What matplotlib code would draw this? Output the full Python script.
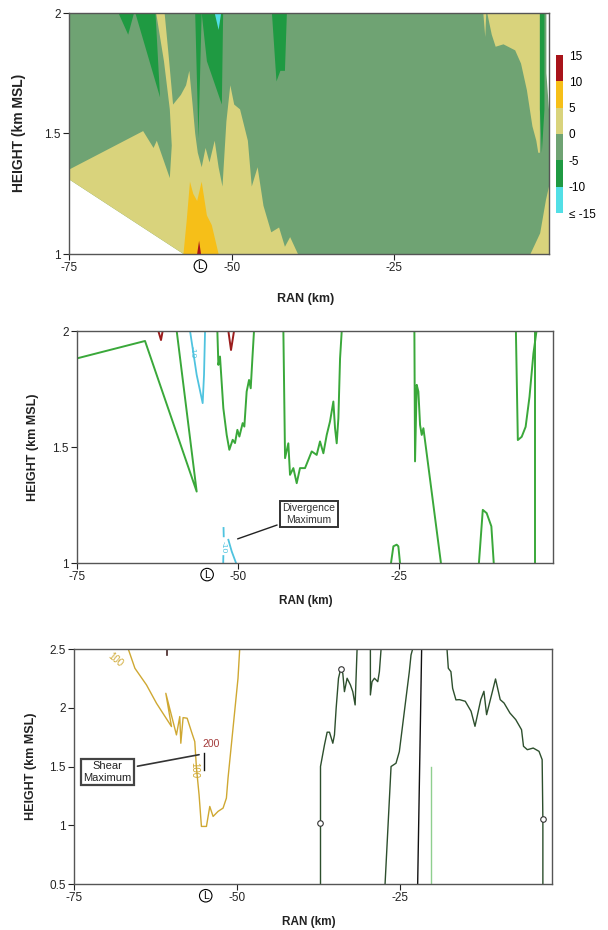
import numpy as np
import matplotlib.pyplot as plt
from matplotlib.colors import ListedColormap, BoundaryNorm
import matplotlib.cm as cm

plt.rcParams['font.family'] = ['Liberation Sans', 'DejaVu Sans']

# ---------------- panel 1: filled regions (RAN km, HEIGHT km) ----------------
dom_x = [-75.0, -75.0, -1.6, -1.6, -1.2, -1.2, -57.4]
dom_y = [1.31, 2.0, 2.0, 1.75, 1.6, 1.0, 1.0]

pale_x = [-75.0, -75.0, -63.6, -62.0, -61.5, -59.5, -59.2, -59.5, -60.4, -61.6, -60.3, -59.6,
          -59.0, -57.8, -57.0, -56.5, -56.0, -55.6, -55.2, -54.6, -54.0, -53.4, -52.6, -52.0,
          -51.4, -50.8, -50.2, -49.6, -48.7, -47.5, -46.9, -46.0, -45.1, -43.9, -42.7, -41.8,
          -41.0, -39.8, -57.4]
pale_y = [1.31, 1.35, 1.51, 1.44, 1.47, 1.315, 1.45, 1.60, 1.80, 2.0, 2.0, 1.80,
          1.62, 1.66, 1.70, 1.76, 1.62, 1.50, 1.42, 1.36, 1.44, 1.38, 1.47, 1.36,
          1.28, 1.55, 1.70, 1.62, 1.60, 1.47, 1.28, 1.36, 1.20, 1.09, 1.11, 1.03,
          1.07, 1.0, 1.0]

pale_ne_x = [-10.7, -10.0, -9.4, -8.2, -6.4, -5.5, -4.6, -3.75, -3.15, -2.85, -2.6, -2.6]
pale_ne_y = [2.0, 1.91, 1.86, 1.87, 1.845, 1.79, 1.68, 1.53, 1.47, 1.42, 1.42, 2.0]
pale_se_x = [-4.05, -2.56, -1.67, -1.2, -1.2]
pale_se_y = [1.0, 1.086, 1.224, 1.28, 1.0]
pale_sl_x = [-11.3, -11.0, -10.85]
pale_sl_y = [2.0, 1.9, 2.0]

gold_x = [-57.4, -56.9, -56.4, -55.9, -55.3, -54.6, -53.8, -53.05, -52.0]
gold_y = [1.0, 1.14, 1.30, 1.25, 1.22, 1.30, 1.16, 1.12, 1.0]
red_x = [-55.3, -55.0, -54.7]
red_y = [1.0, 1.055, 1.0]

dgA_x = [-67.4, -65.9, -65.0]
dgA_y = [2.0, 1.91, 2.0]
dgB_x = [-64.8, -61.0, -61.7]
dgB_y = [2.0, 1.65, 2.0]
dgC1_x = [-55.6, -55.1, -54.6]
dgC1_y = [2.0, 1.48, 2.0]
dgC2_x = [-54.6, -53.8, -51.5, -51.3]
dgC2_y = [2.0, 1.80, 1.62, 2.0]
dgD_x = [-43.8, -43.1, -42.5, -41.8, -41.5]
dgD_y = [2.0, 1.716, 1.76, 1.76, 2.0]
dgE_x = [-2.6, -2.6, -2.3, -1.9, -1.9]
dgE_y = [2.0, 1.6, 1.42, 1.6, 2.0]
cyan_x = [-52.6, -52.0, -51.6]
cyan_y = [2.0, 1.93, 2.0]

levels = [-15, -10, -5, 0, 5, 10, 15]
level_labels = ['\u2264 -15', '-10', '-5', '0', '5', '10', '15']
c_cyan, c_green, c_gg, c_pale, c_gold, c_red = '#52dfe6', '#1f9a42', '#6fa373', '#d9d37c', '#f6bf18', '#a8141a'

# ---------------- panel 2: divergence contours ----------------
g1_x = [-75.0, -64.44, -56.42, -59.52]
g1_y = [1.882, 1.957, 1.308, 2.0]
g2_x = [-53.21, -53.05, -52.8, -52.28, -51.76, -51.35, -50.83, -50.47, -50.1, -49.79, -49.28,
        -49.02, -48.66, -48.29, -48.03, -47.77, -47.52]
g2_y = [2.0, 1.854, 1.89, 1.667, 1.552, 1.488, 1.531, 1.517, 1.574, 1.545, 1.603,
        1.588, 1.739, 1.789, 1.753, 1.882, 2.0]
g3_x = [-42.96, -42.70, -42.19, -41.93, -41.41, -40.89, -40.38, -39.6, -38.56, -37.79, -37.27,
        -36.75, -36.23, -35.72, -35.2, -34.94, -34.68, -34.42, -34.16, -33.9]
g3_y = [2.0, 1.452, 1.516, 1.38, 1.409, 1.344, 1.409, 1.409, 1.481, 1.466, 1.524,
        1.473, 1.552, 1.61, 1.696, 1.581, 1.516, 1.624, 1.882, 2.0]
g4_x = [-22.62, -22.52, -22.26, -22.0, -21.74, -21.48, -21.22, -18.5]
g4_y = [2.0, 1.438, 1.768, 1.739, 1.595, 1.552, 1.581, 1.0]
g5_x = [-26.25, -25.88, -25.37, -25.11, -24.85]
g5_y = [1.0, 1.072, 1.079, 1.072, 1.0]
g6_x = [-12.6, -12.0, -11.4, -10.67, -10.3]
g6_y = [1.0, 1.229, 1.215, 1.158, 1.0]
g7_x = [-6.86, -6.56, -5.96, -5.35, -4.75, -4.14, -3.66]
g7_y = [2.0, 1.53, 1.544, 1.587, 1.716, 1.903, 2.0]
g8_x = [-3.84, -3.84]
g8_y = [2.0, 1.0]
r1_x = [-62.37, -61.96, -61.7]
r1_y = [2.0, 1.961, 2.0]
r2_x = [-51.5, -51.09, -50.62]
r2_y = [2.0, 1.918, 2.0]
cy1_x = [-57.45, -56.42, -55.49, -55.28, -55.12]
cy1_y = [2.0, 1.811, 1.689, 1.811, 2.0]
cy2a_x = [-52.25, -52.22]
cy2a_y = [1.151, 1.115]
cy2b_x = [-52.28, -52.3]
cy2b_y = [1.03, 1.0]
cy2c_x = [-51.5, -50.98, -50.31]
cy2c_y = [1.10, 1.05, 1.0]

# ---------------- panel 3: shear contours ----------------
gold3_x = [-66.68, -65.66, -63.88, -62.35, -60.05, -60.92, -59.29, -58.78, -58.62, -58.27, -57.65,
           -56.99, -56.48, -56.22, -55.82, -55.46, -54.69, -54.18, -53.67, -52.91, -52.14,
           -51.63, -51.38, -50.87, -50.36, -49.85, -49.59]
gold3_y = [2.5, 2.336, 2.194, 2.038, 1.84, 2.123, 1.769, 1.925, 1.698, 1.916, 1.911,
           1.797, 1.712, 1.486, 1.259, 0.99, 0.99, 1.16, 1.075, 1.118, 1.146,
           1.231, 1.401, 1.684, 1.967, 2.251, 2.5]
sa_x = [-37.2, -37.2, -36.59, -36.18, -35.82, -35.31, -35.06, -34.8, -34.44, -34.14, -33.78,
        -33.53, -33.12, -32.61, -32.25, -31.89, -31.59]
sa_y = [0.5, 1.5, 1.684, 1.792, 1.792, 1.698, 1.769, 1.996, 2.251, 2.322, 2.293,
        2.137, 2.251, 2.194, 2.137, 2.024, 2.5]
sb_x = [-29.55, -29.55, -29.3, -28.93, -28.42, -28.17, -27.91]
sb_y = [2.5, 2.109, 2.222, 2.251, 2.222, 2.307, 2.5]
sc_x = [-27.3, -26.38, -25.62, -25.11, -24.6, -24.09, -23.58, -23.32, -23.07]
sc_y = [0.5, 1.5, 1.528, 1.627, 1.854, 2.081, 2.307, 2.449, 2.5]
sd_x = [-22.3, -21.69]
sd_y = [0.5, 2.5]
se_x = [-20.26, -20.26]
se_y = [0.5, 1.5]
sf_x = [-17.8, -17.6, -17.2, -16.94, -16.43, -15.89, -15.0, -14.11, -13.51, -12.62, -12.14,
        -11.73, -10.83, -10.36, -9.64, -9.05, -8.15, -7.26, -6.37, -6.07, -5.48, -4.58,
        -3.69, -3.21, -3.1, -3.1]
sf_y = [2.5, 2.336, 2.307, 2.166, 2.067, 2.069, 2.055, 1.97, 1.842, 2.069, 2.14,
        1.941, 2.14, 2.245, 2.069, 2.04, 1.955, 1.899, 1.813, 1.672, 1.643, 1.657,
        1.629, 1.558, 1.048, 0.5]
zero_x = [-37.2, -34.1, -3.1]
zero_y = [1.02, 2.33, 1.05]

W, H = 608, 930
fig = plt.figure(figsize=(W / 100, H / 100), dpi=100)


def box(l, r, t, b):
    return [l / W, 1 - b / H, (r - l) / W, (b - t) / H]


def style(ax, xmax, yticks, ylabels):
    ax.set_xlim(-75, xmax)
    ax.set_ylim(yticks[0], yticks[-1])
    ax.set_xticks([-75, -50, -25])
    ax.set_xticklabels(['-75', '-50', '-25'])
    ax.set_yticks(yticks)
    ax.set_yticklabels(ylabels)
    ax.tick_params(direction='out', length=4, width=0.8, labelsize=8.5, colors='#222222', pad=2)
    for s in ax.spines.values():
        s.set_color('#555555')
        s.set_linewidth(1.0)
    ax.text(-54.8, -0.05, 'L', transform=ax.get_xaxis_transform(), ha='center', va='center',
            fontsize=7.5, bbox=dict(boxstyle='circle,pad=0.12', fc='white', ec='black', lw=0.8))


# panel 1
ax1 = fig.add_axes(box(69, 549, 13, 254))
ax1.fill(dom_x, dom_y, color=c_gg, lw=0)
for px, py in [(pale_x, pale_y), (pale_ne_x, pale_ne_y), (pale_se_x, pale_se_y), (pale_sl_x, pale_sl_y)]:
    ax1.fill(px, py, color=c_pale, lw=0)
ax1.fill(gold_x, gold_y, color=c_gold, lw=0)
ax1.fill(red_x, red_y, color=c_red, lw=0)
for px, py in [(dgA_x, dgA_y), (dgB_x, dgB_y), (dgC1_x, dgC1_y), (dgC2_x, dgC2_y),
               (dgD_x, dgD_y), (dgE_x, dgE_y)]:
    ax1.fill(px, py, color=c_green, lw=0)
ax1.fill(cyan_x, cyan_y, color=c_cyan, lw=0)
style(ax1, -1.2, [1, 1.5, 2], ['1', '1.5', '2'])

cax = fig.add_axes(box(556, 563, 55, 213))
cmap = ListedColormap([c_cyan, c_green, c_gg, c_pale, c_gold, c_red])
norm = BoundaryNorm(levels, cmap.N)
cb = fig.colorbar(cm.ScalarMappable(norm=norm, cmap=cmap), cax=cax, ticks=levels)
cb.set_ticklabels(level_labels)
cb.outline.set_visible(False)
cax.tick_params(length=0, labelsize=8.5, pad=4)

# panel 2
ax2 = fig.add_axes(box(77, 553, 331, 563))
for px, py in [(g1_x, g1_y), (g2_x, g2_y), (g3_x, g3_y), (g4_x, g4_y), (g5_x, g5_y),
               (g6_x, g6_y), (g7_x, g7_y), (g8_x, g8_y)]:
    ax2.plot(px, py, color='#3aa83a', lw=1.4)
for px, py in [(r1_x, r1_y), (r2_x, r2_y)]:
    ax2.plot(px, py, color='#9b1c1c', lw=1.4)
for px, py in [(cy1_x, cy1_y), (cy2a_x, cy2a_y), (cy2b_x, cy2b_y), (cy2c_x, cy2c_y)]:
    ax2.plot(px, py, color='#4fc3df', lw=1.3)
ax2.text(-57.2, 1.91, '-10', color='#4fc3df', fontsize=6, rotation=-90, ha='center', va='center')
ax2.text(-52.25, 1.07, '-10', color='#4fc3df', fontsize=6, rotation=-90, ha='center', va='center')
ax2.annotate('Divergence\nMaximum', xy=(-50.47, 1.10), xytext=(-38.98, 1.212),
             fontsize=7.5, ha='center', va='center', color='#333333',
             bbox=dict(boxstyle='square,pad=0.2', fc='white', ec='#333333', lw=1.4),
             arrowprops=dict(arrowstyle='-', color='#222222', lw=1.0))
style(ax2, -1.1, [1, 1.5, 2], ['1', '1.5', '2'])

# panel 3
ax3 = fig.add_axes(box(74, 552, 649, 884))
ax3.plot(gold3_x, gold3_y, color='#cfa832', lw=1.0)
for px, py in [(sa_x, sa_y), (sb_x, sb_y), (sc_x, sc_y), (sf_x, sf_y)]:
    ax3.plot(px, py, color='#2d4f2d', lw=1.0)
ax3.plot(sd_x, sd_y, color='#111111', lw=1.0)
ax3.plot(se_x, se_y, color='#8fcf8f', lw=1.0)
ax3.plot(zero_x, zero_y, 'o', ms=4, mfc='white', mec='#333333', mew=0.8)
ax3.plot([-60.8, -60.8], [2.5, 2.45], color='#442222', lw=1.2)
ax3.plot([-55.1, -55.1], [1.613, 1.472], color='#111111', lw=1.0)
ax3.text(-68.7, 2.41, '100', color='#cfa832', fontsize=7, rotation=-40, ha='center', va='center')
ax3.text(-56.5, 1.47, '100', color='#cfa832', fontsize=7, rotation=-90, ha='center', va='center')
ax3.text(-53.9, 1.69, '200', color='#a33a3a', fontsize=7.5, ha='center', va='center')
ax3.annotate('Shear\nMaximum', xy=(-55.4, 1.605), xytext=(-69.85, 1.455),
             fontsize=8, ha='center', va='center', color='#222222',
             bbox=dict(boxstyle='square,pad=0.2', fc='white', ec='#444444', lw=1.6),
             arrowprops=dict(arrowstyle='-', color='#333333', lw=1.2))
style(ax3, -1.7, [0.5, 1, 1.5, 2, 2.5], ['0.5', '1', '1.5', '2', '2.5'])

# axis titles
for x, y, fs in [(19, 133, 10), (33, 447, 9), (31, 766, 9)]:
    fig.text(x / W, 1 - y / H, 'HEIGHT (km MSL)', rotation=90, ha='center', va='center',
             fontsize=fs, fontweight='bold', color='#222222')
for x, y, fs in [(306, 299, 9), (306, 601, 8.5), (309, 922, 8.5)]:
    fig.text(x / W, 1 - y / H, 'RAN (km)', ha='center', va='center',
             fontsize=fs, fontweight='bold', color='#222222')

fig.savefig('out.png', dpi=100)
